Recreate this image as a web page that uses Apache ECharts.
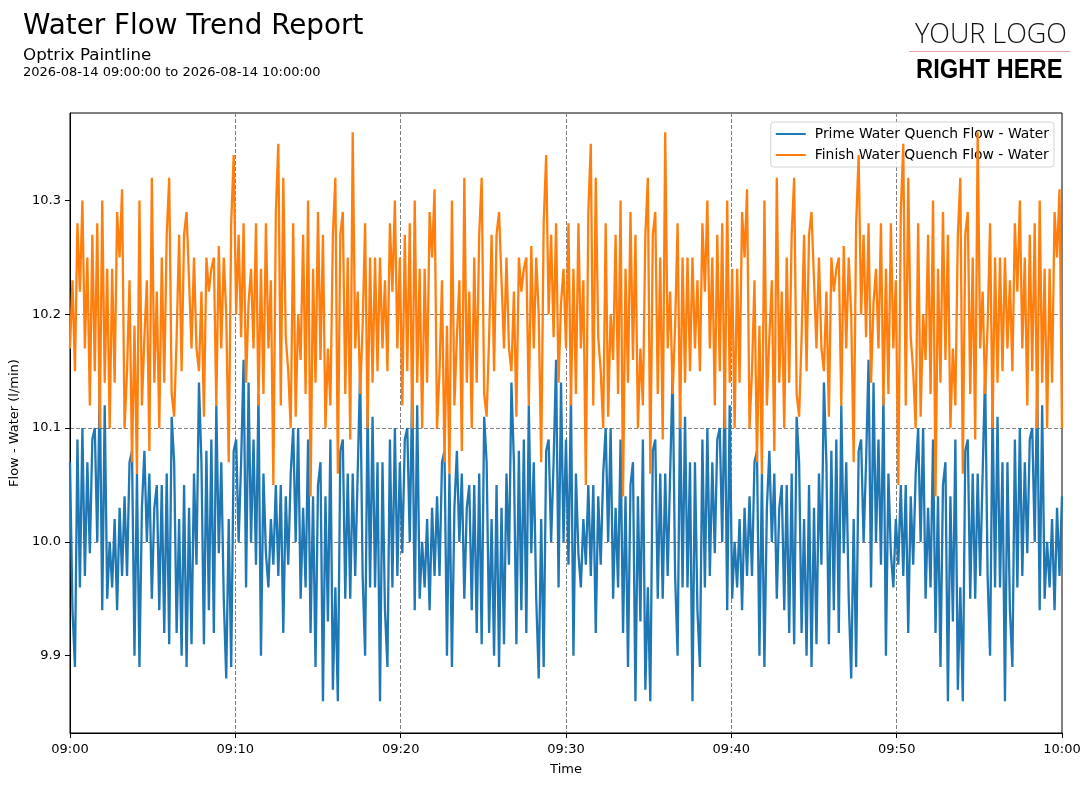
<!DOCTYPE html>
<html>
<head>
<meta charset="utf-8">
<script src="https://cdn.jsdelivr.net/npm/echarts@6/dist/echarts.min.js"></script>
<style>
  html, body { margin: 0; background: #fff; }
  #chart { width: 1092px; height: 788px; }
</style>
</head>
<body>
<div id="chart"></div>
<script>
// one sample every 9 seconds, 09:00:00 -> 10:00:00
const stepSeconds = 9;

// Prime Water Quench Flow - Water (l/min)
const primeFlow = [
  10.07,9.94,9.89,10.09,9.96,10.10,9.97,10.07,9.99,10.09,
  10.10,10.00,10.14,9.94,10.12,9.95,10.00,9.96,10.02,9.94,
  10.03,9.97,10.04,9.97,10.07,10.08,9.90,10.06,9.89,10.03,
  10.08,10.00,10.06,9.95,10.03,10.05,9.94,10.05,9.92,10.06,
  9.91,10.11,10.07,9.92,10.02,9.90,10.05,9.89,10.03,9.91,
  10.06,9.98,10.14,10.07,9.91,10.08,9.94,10.09,9.92,10.12,
  9.99,10.07,9.95,9.88,10.02,9.89,10.08,10.09,10.00,10.07,
  10.16,9.96,10.14,10.00,10.09,9.98,10.13,9.90,10.06,9.99,
  9.96,10.02,9.98,10.05,9.97,10.05,9.92,10.04,9.98,10.06,
  10.10,10.00,10.10,9.95,10.03,9.96,10.09,9.92,10.04,9.89,
  10.05,10.07,9.86,10.04,9.93,10.09,9.87,9.96,9.86,10.08,
  10.09,9.95,10.06,9.95,10.06,9.97,10.06,10.15,9.97,9.90,
  10.12,9.96,10.11,9.96,10.07,9.86,
  10.07,9.94,9.89,10.09,9.96,10.10,9.97,10.07,9.99,10.09,
  10.10,10.00,10.14,9.94,10.12,9.95,10.00,9.96,10.02,9.94,
  10.03,9.97,10.04,9.97,10.07,10.08,9.90,10.06,9.89,10.03,
  10.08,10.00,10.06,9.95,10.03,10.05,9.94,10.05,9.92,10.06,
  9.91,10.11,10.07,9.92,10.02,9.90,10.05,9.89,10.03,9.91,
  10.06,9.98,10.14,10.07,9.91,10.08,9.94,10.09,9.92,10.12,
  9.99,10.07,9.95,9.88,10.02,9.89,10.08,10.09,10.00,10.07,
  10.16,9.96,10.14,10.00,10.09,9.98,10.13,9.90,10.06,9.99,
  9.96,10.02,9.98,10.05,9.97,10.05,9.92,10.04,9.98,10.06,
  10.10,10.00,10.10,9.95,10.03,9.96,10.09,9.92,10.04,9.89,
  10.05,10.07,9.86,10.04,9.93,10.09,9.87,9.96,9.86,10.08,
  10.09,9.95,10.06,9.95,10.06,9.97,10.06,10.15,9.97,9.90,
  10.12,9.96,10.11,9.96,10.07,9.86,
  10.07,9.94,9.89,10.09,9.96,10.10,9.97,10.07,9.99,10.09,
  10.10,10.00,10.14,9.94,10.12,9.95,10.00,9.96,10.02,9.94,
  10.03,9.97,10.04,9.97,10.07,10.08,9.90,10.06,9.89,10.03,
  10.08,10.00,10.06,9.95,10.03,10.05,9.94,10.05,9.92,10.06,
  9.91,10.11,10.07,9.92,10.02,9.90,10.05,9.89,10.03,9.91,
  10.06,9.98,10.14,10.07,9.91,10.08,9.94,10.09,9.92,10.12,
  9.99,10.07,9.95,9.88,10.02,9.89,10.08,10.09,10.00,10.07,
  10.16,9.96,10.14,10.00,10.09,9.98,10.13,9.90,10.06,9.99,
  9.96,10.02,9.98,10.05,9.97,10.05,9.92,10.04,9.98,10.06,
  10.10,10.00,10.10,9.95,10.03,9.96,10.09,9.92,10.04,9.89,
  10.05,10.07,9.86,10.04,9.93,10.09,9.87,9.96,9.86,10.08,
  10.09,9.95,10.06,9.95,10.06,9.97,10.06,10.15,9.97,9.90,
  10.12,9.96,10.11,9.96,10.07,9.86,
  10.07,9.94,9.89,10.09,9.96,10.10,9.97,10.07,9.99,10.09,
  10.10,10.00,10.14,9.94,10.12,9.95,10.00,9.96,10.02,9.94,
  10.03,9.97,10.04
];

// Finish Water Quench Flow - Water (l/min)
const finishFlow = [
  10.17,10.23,10.15,10.28,10.22,10.30,10.17,10.25,10.12,10.27,
  10.15,10.28,10.10,10.30,10.14,10.24,10.10,10.24,10.14,10.29,
  10.25,10.31,10.10,10.15,10.23,10.07,10.19,10.06,10.30,10.12,
  10.18,10.23,10.08,10.32,10.14,10.22,10.10,10.25,10.14,10.27,
  10.32,10.13,10.11,10.18,10.27,10.15,10.27,10.29,10.23,10.17,
  10.25,10.17,10.15,10.22,10.11,10.25,10.22,10.24,10.25,10.12,
  10.26,10.17,10.25,10.20,10.07,10.28,10.34,10.20,10.27,10.18,
  10.28,10.14,10.21,10.24,10.17,10.28,10.12,10.24,10.13,10.28,
  10.17,10.23,10.05,10.29,10.35,10.12,10.32,10.18,10.15,10.10,
  10.28,10.11,10.20,10.16,10.27,10.13,10.30,10.04,10.24,10.14,
  10.29,10.16,10.27,10.10,10.17,10.12,10.27,10.32,10.06,10.27,
  10.29,10.13,10.25,10.09,10.36,10.17,10.22,10.13,10.19,10.28,
  10.10,10.25,10.14,10.25,10.15,10.25,
  10.17,10.23,10.15,10.28,10.22,10.30,10.17,10.25,10.12,10.27,
  10.15,10.28,10.10,10.30,10.14,10.24,10.10,10.24,10.14,10.29,
  10.25,10.31,10.10,10.15,10.23,10.07,10.19,10.06,10.30,10.12,
  10.18,10.23,10.08,10.32,10.14,10.22,10.10,10.25,10.14,10.27,
  10.32,10.13,10.11,10.18,10.27,10.15,10.27,10.29,10.23,10.17,
  10.25,10.17,10.15,10.22,10.11,10.25,10.22,10.24,10.25,10.12,
  10.26,10.17,10.25,10.20,10.07,10.28,10.34,10.20,10.27,10.18,
  10.28,10.14,10.21,10.24,10.17,10.28,10.12,10.24,10.13,10.28,
  10.17,10.23,10.05,10.29,10.35,10.12,10.32,10.18,10.15,10.10,
  10.28,10.11,10.20,10.16,10.27,10.13,10.30,10.04,10.24,10.14,
  10.29,10.16,10.27,10.10,10.17,10.12,10.27,10.32,10.06,10.27,
  10.29,10.13,10.25,10.09,10.36,10.17,10.22,10.13,10.19,10.28,
  10.10,10.25,10.14,10.25,10.15,10.25,
  10.17,10.23,10.15,10.28,10.22,10.30,10.17,10.25,10.12,10.27,
  10.15,10.28,10.10,10.30,10.14,10.24,10.10,10.24,10.14,10.29,
  10.25,10.31,10.10,10.15,10.23,10.07,10.19,10.06,10.30,10.12,
  10.18,10.23,10.08,10.32,10.14,10.22,10.10,10.25,10.14,10.27,
  10.32,10.13,10.11,10.18,10.27,10.15,10.27,10.29,10.23,10.17,
  10.25,10.17,10.15,10.22,10.11,10.25,10.22,10.24,10.25,10.12,
  10.26,10.17,10.25,10.20,10.07,10.28,10.34,10.20,10.27,10.18,
  10.28,10.14,10.21,10.24,10.17,10.28,10.12,10.24,10.13,10.28,
  10.17,10.23,10.05,10.29,10.35,10.12,10.32,10.18,10.15,10.10,
  10.28,10.11,10.20,10.16,10.27,10.13,10.30,10.04,10.24,10.14,
  10.29,10.16,10.27,10.10,10.17,10.12,10.27,10.32,10.06,10.27,
  10.29,10.13,10.25,10.09,10.36,10.17,10.22,10.13,10.19,10.28,
  10.10,10.25,10.14,10.25,10.15,10.25,
  10.17,10.23,10.15,10.28,10.22,10.30,10.17,10.25,10.12,10.27,
  10.15,10.28,10.10,10.30,10.14,10.24,10.10,10.24,10.14,10.29,
  10.25,10.31,10.10
];

const yTicks = [9.9, 10.0, 10.1, 10.2, 10.3];
const seriesNames = ['Prime Water Quench Flow - Water', 'Finish Water Quench Flow - Water'];

function pad(n) { return (n < 10 ? '0' : '') + n; }
function clock(sec) {
  let m = Math.round(sec / 60);
  return pad(9 + Math.floor(m / 60)) + ':' + pad(m % 60);
}
const toPairs = arr => arr.map((v, i) => [i * stepSeconds, v]);

let myChart = echarts.init(document.getElementById('chart'));
const font = 'DejaVu Sans';

myChart.setOption({
  animation: false,
  textStyle: { fontFamily: font },
  graphic: [
    { type: 'text', left: 23, top: 13, style: { text: 'Water Flow Trend Report', font: '27.8px "DejaVu Sans"', fill: '#000' } },
    { type: 'text', left: 23, top: 47, style: { text: 'Optrix Paintline', font: '16.7px "DejaVu Sans"', fill: '#000' } },
    { type: 'text', left: 23, top: 66, style: { text: '2026-08-14 09:00:00 to 2026-08-14 10:00:00', font: '13px "DejaVu Sans"', fill: '#000' } },
    { type: 'text', left: 915, top: 22, style: { text: 'YOUR LOGO', font: '300 27px "Open Sans"', fill: '#111' } },
    { type: 'line', shape: { x1: 909, y1: 51.5, x2: 1070, y2: 51.5 }, style: { stroke: '#e3a3a3', lineWidth: 1 } },
    { type: 'text', x: 916, y: 57, scaleX: 0.88, style: { text: 'RIGHT HERE', font: 'bold 27px "Liberation Sans"', fill: '#000' } }
  ],
  legend: {
    data: seriesNames,
    orient: 'vertical',
    right: 38,
    top: 122,
    icon: 'rect',
    itemWidth: 30,
    itemHeight: 2,
    itemGap: 7,
    padding: [5, 5, 5, 5],
    borderColor: '#d3d3d3',
    borderWidth: 1,
    borderRadius: 3,
    backgroundColor: 'rgba(255,255,255,0.85)',
    textStyle: { fontFamily: font, fontSize: 13.9, color: '#000', lineHeight: 14, padding: [0, 0, 0, 4] }
  },
  grid: {
    left: 70, top: 113, width: 992, height: 620,
    show: true, borderColor: '#000', borderWidth: 1, backgroundColor: 'transparent'
  },
  xAxis: {
    type: 'value',
    min: 0, max: 3600, interval: 600,
    name: 'Time',
    nameLocation: 'middle',
    nameGap: 30,
    nameTextStyle: { fontFamily: font, fontSize: 13, color: '#000' },
    axisLine: { lineStyle: { color: '#000', width: 1 } },
    axisTick: { length: 5, lineStyle: { color: '#000' } },
    axisLabel: { formatter: clock, margin: 10, color: '#000', fontFamily: font, fontSize: 13 },
    splitLine: { show: true, lineStyle: { color: '#808080', type: [4, 2], width: 1 } }
  },
  yAxis: {
    type: 'value',
    min: 9.832, max: 10.377,
    name: 'Flow - Water (l/min)',
    nameLocation: 'middle',
    nameGap: 47,
    nameTextStyle: { fontFamily: font, fontSize: 13, color: '#000' },
    axisLine: { show: true, lineStyle: { color: '#000', width: 1 } },
    axisTick: { show: true, length: 5, lineStyle: { color: '#000' }, customValues: yTicks },
    axisLabel: { customValues: yTicks, formatter: v => v.toFixed(1), margin: 9, color: '#000', fontFamily: font, fontSize: 13 },
    splitLine: { show: true, showMinLine: false, showMaxLine: false, lineStyle: { color: '#808080', type: [4, 2], width: 1 } }
  },
  series: [
    {
      name: seriesNames[0], type: 'line', data: toPairs(primeFlow),
      symbol: 'none', color: '#1f77b4', lineStyle: { width: 2.3 }, z: 3
    },
    {
      name: seriesNames[1], type: 'line', data: toPairs(finishFlow),
      symbol: 'none', color: '#ff7f0e', lineStyle: { width: 2.3 }, z: 4
    }
  ]
});
</script>
</body>
</html>
